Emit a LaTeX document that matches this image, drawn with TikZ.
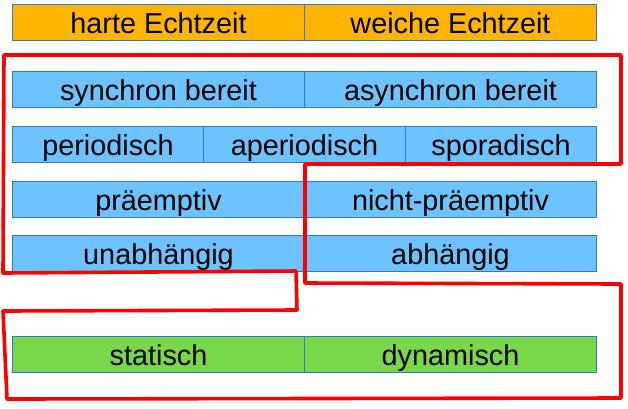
\documentclass[tikz,border=0pt]{standalone}
\usepackage{fontspec}
\setmainfont{Liberation Sans}
\begin{document}
\definecolor{hardsoft}{RGB}{255,180,0}
\definecolor{cellblue}{RGB}{108,195,255}
\definecolor{cellgreen}{RGB}{120,216,74}
\definecolor{celledge}{RGB}{52,122,196}
\definecolor{groupred}{RGB}{255,0,0}
\begin{tikzpicture}[x=1pt,y=-1pt,
  cell/.style={draw=celledge, line width=1pt, rectangle, anchor=north west,
    minimum height=36pt, inner sep=0pt, text height=29pt, text depth=7pt,
    font=\fontsize{28.8}{34}\selectfont},
  rt/.style={cell, fill=hardsoft},
  bl/.style={cell, fill=cellblue},
  gr/.style={cell, fill=cellgreen},
  group/.style={draw=groupred, line width=3.6pt, line join=round}]
\useasboundingbox (0,0) rectangle (628,408);

% real-time classes
\node[rt, minimum width=292pt] (hard) at (12,4) {harte Echtzeit};
\node[rt, minimum width=292pt] (soft) at (304,4) {weiche Echtzeit};

% task properties
\node[bl, minimum width=292pt] (sync) at (12,71) {synchron bereit};
\node[bl, minimum width=292pt] (async) at (304,71) {asynchron bereit};

\node[bl, minimum width=191pt] (per) at (12,126) {periodisch};
\node[bl, minimum width=202pt] (aper) at (203,126) {aperiodisch};
\node[bl, minimum width=191pt] (spor) at (405,126) {sporadisch};

\node[bl, minimum width=292pt] (pre) at (12,181) {präemptiv};
\node[bl, minimum width=292pt] (npre) at (304,181) {nicht-präemptiv};

\node[bl, minimum width=292pt] (indep) at (12,235) {unabhängig};
\node[bl, minimum width=292pt] (dep) at (304,235) {abhängig};

% scheduling
\node[gr, minimum width=292pt] (stat) at (12,336) {statisch};
\node[gr, minimum width=292pt] (dyn) at (304,336) {dynamisch};

% hand-drawn grouping outline
\draw[group] (4,55) -- (621,55) -- (621,164) -- (305,164) -- (305,283)
  -- (621,284) -- (621,398) -- (7,399) -- (3,311) -- (297,310)
  -- (296,271) -- (3,273) -- cycle;
\end{tikzpicture}
\end{document}
